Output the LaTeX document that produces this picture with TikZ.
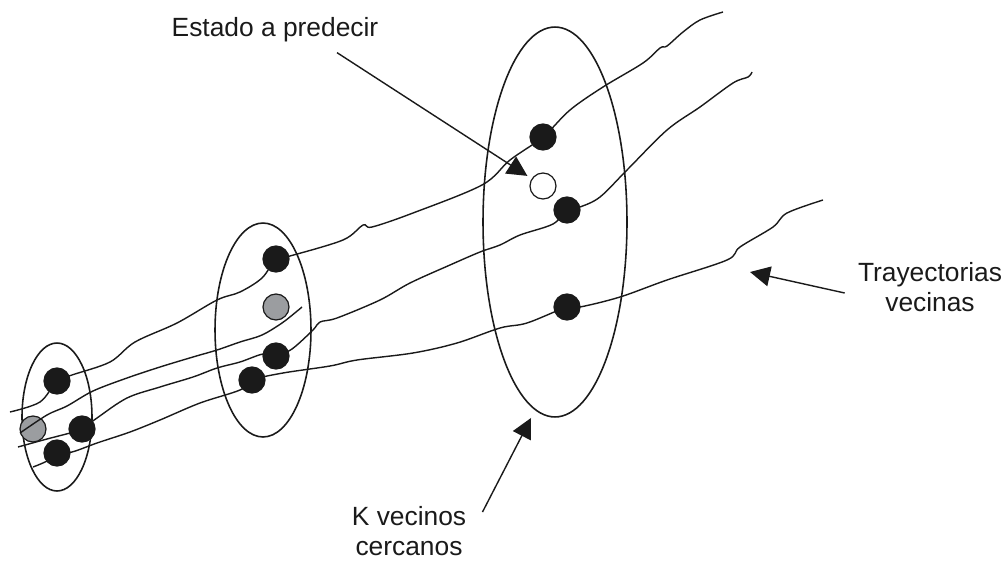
\documentclass[tikz,border=0pt]{standalone}
\usepackage{fontspec}
\setmainfont{Liberation Sans}
\usetikzlibrary{arrows.meta,shapes.geometric}

\definecolor{ink}{RGB}{26,26,26}
\definecolor{dotgray}{RGB}{155,157,160}

\begin{document}
\begin{tikzpicture}[
  x=0.02cm, y=-0.02cm,
  hood/.style={draw=ink, ellipse, line width=0.9pt, inner sep=0pt, outer sep=0pt},
  traj/.style={draw=ink, line width=0.8pt, smooth, tension=0.55},
  dot/.style={circle, draw=ink, line width=0.7pt, fill=ink, minimum size=0.52cm, inner sep=0pt},
  pastdot/.style={dot, fill=dotgray},
  target/.style={dot, fill=white},
  lbl/.style={font=\fontsize{15}{17}\selectfont, align=center, inner sep=0pt, text=ink},
  pointer/.style={-{Triangle[length=0.4cm, width=0.4cm]}, draw=ink, line width=0.8pt}
]
\useasboundingbox (0,0) rectangle (1007,561);

% Neighbourhoods
\node[hood, minimum width=1.4cm, minimum height=2.96cm] (hoodA) at (57,417) {};
\node[hood, minimum width=1.92cm, minimum height=4.28cm] (hoodB) at (263,330) {};
\node[hood, minimum width=2.88cm, minimum height=7.8cm] (hoodC) at (555,222) {};

% State positions
\coordinate (l1) at (57,381);
\coordinate (l2) at (33,429);
\coordinate (l3) at (82,429);
\coordinate (l4) at (57,453);
\coordinate (m1) at (276,259);
\coordinate (m2) at (276,307);
\coordinate (m3) at (276,356);
\coordinate (m4) at (252,380);
\coordinate (r1) at (543,137);
\coordinate (r2) at (543,186);
\coordinate (r3) at (567,210);
\coordinate (r4) at (567,307);

% Past states
\node[pastdot] (pl2) at (l2) {};
\node[pastdot] (pm2) at (m2) {};

% Trajectories
\draw[traj] plot coordinates {(10,412) (40,402) (l1) (72,375) (110,362) (135,342)
  (177,323) (217,300) (240,292) (262,278) (m1) (290,256) (343,240) (363,225)
  (372,227) (413,213) (482,185) (510,160) (r1) (570,110) (603,87) (643,63)
  (660,48) (667,46) (683,32) (700,20) (723,12)};
\draw[traj] plot coordinates {(20,433) (47,415) (67,406) (93,391) (127,378)
  (160,367) (193,357) (217,350) (240,342) (262,335) (282,323) (296,312) (302,307)};
\draw[traj] plot coordinates {(18,447) (47,439) (70,433) (l3) (97,418) (127,398)
  (160,387) (193,377) (217,368) (240,362) (263,354) (m3) (292,349) (313,330)
  (320,322) (337,318) (380,300) (410,283) (450,265) (480,252) (500,245) (520,235)
  (553,224) (r3) (580,207) (600,197) (627,170) (667,130) (700,107) (733,83)
  (748,77) (752,72)};
\draw[traj] plot coordinates {(33,467) (47,461) (l4) (72,452) (97,443) (130,432)
  (160,420) (200,403) (240,390) (m4) (283,373) (330,366) (357,360) (413,353)
  (457,343) (500,328) (527,323) (r4) (580,307) (620,297) (667,280) (727,260)
  (740,247) (773,227) (787,213) (823,200)};

% Neighbour states
\node[dot] (pl1) at (l1) {};
\node[dot] (pl3) at (l3) {};
\node[dot] (pl4) at (l4) {};
\node[dot] (pm1) at (m1) {};
\node[dot] (pm3) at (m3) {};
\node[dot] (pm4) at (m4) {};
\node[dot] (pr1) at (r1) {};
\node[dot] (pr3) at (r3) {};
\node[dot] (pr4) at (r4) {};
\node[target] (pr2) at (r2) {};

% Labels
\node[lbl] (estado) at (275,30) {Estado a predecir};
\node[lbl] (tray) at (930,287) {Trayectorias\\vecinas};
\node[lbl] (kvec) at (409,531) {K vecinos\\cercanos};
\coordinate (trayTip) at (750,272);

% Pointers
\draw[pointer, shorten >=0.1cm] ([xshift=1.24cm, yshift=-0.2cm]estado.south) -- (pr2);
\draw[pointer] ([xshift=-0.26cm, yshift=-0.12cm]tray.west) -- (trayTip);
\draw[pointer] ([xshift=0.32cm, yshift=-0.12cm]kvec.north east) -- ([xshift=-0.48cm, yshift=-0.02cm]hoodC.south);

\end{tikzpicture}
\end{document}
